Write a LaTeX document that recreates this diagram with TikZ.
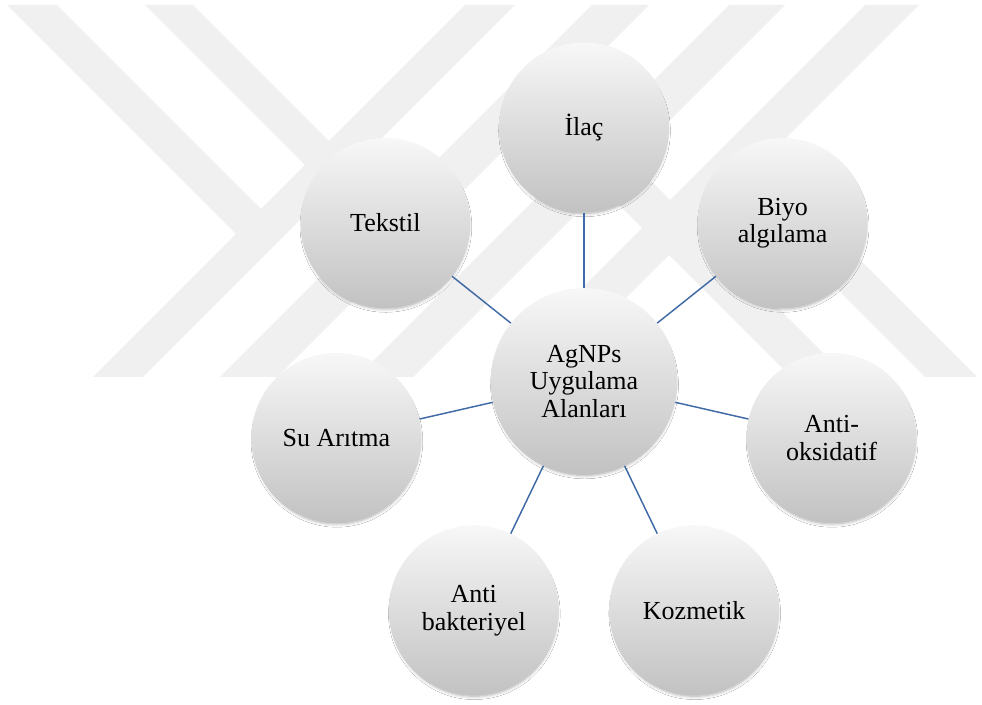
\documentclass[tikz,border=0pt]{standalone}
\usepackage{fontspec}
\setmainfont{Liberation Serif}
\usetikzlibrary{shadows.blur}

\definecolor{wmgray}{RGB}{240,240,240}
\definecolor{linkblue}{RGB}{64,106,166}

\tikzset{
  bubble/.style={circle, inner sep=0pt, minimum size=127.5pt, align=center,
    top color=white!97!black, bottom color=white!76!black, draw=none,
    font=\fontsize{19.5}{20.8}\selectfont,
    blur shadow={shadow xshift=0.4pt, shadow yshift=-2.6pt, shadow scale=0.97,
      shadow blur radius=2.6pt, shadow blur steps=10, shadow opacity=32}},
  hub/.style={bubble, minimum size=140pt},
  link/.style={draw=linkblue, line width=1.1pt},
  wm/.style={fill=wmgray, draw=none}
}

\begin{document}
\begin{tikzpicture}[x=0.75pt, y=-0.75pt]
\useasboundingbox (0,0) rectangle (982,705);
\fill[white] (0,0) rectangle (982,705);

% faint striped emblem in the background
\begin{scope}
  \clip (0,5) rectangle (982,377);
  % long rising stripes
  \fill[wm] (465,5) -- (515,5) -- (143,377) -- (93,377) -- cycle;
  \fill[wm] (592,5) -- (649,5) -- (277,377) -- (220,377) -- cycle;
  \fill[wm] (729,5) -- (785,5) -- (413,377) -- (357,377) -- cycle;
  \fill[wm] (865,5) -- (919,5) -- (547,377) -- (493,377) -- cycle;
  % falling arms on the left, ending at the rising stripes
  \fill[wm] (7,5) -- (57,5) -- (286,234) -- (236,234) -- cycle;
  \fill[wm] (145,5) -- (193,5) -- (421,233) -- (368.5,228.5) -- cycle;
  % falling arms on the right, leaving the rising stripes
  \fill[wm] (574,160) -- (630,160) -- (847,377) -- (791,377) -- cycle;
  \fill[wm] (709,161) -- (762,162) -- (977,377) -- (925,377) -- cycle;
\end{scope}

% hub and application areas
\node[hub]    (center)  at (584,381.5) {AgNPs\\Uygulama\\Alanları};
\node[bubble] (ilac)    at (584,127.5) {İlaç};
\node[bubble] (biyo)    at (782.6,223.1) {Biyo\\algılama};
\node[bubble] (oksi)    at (831.6,438.0) {Anti-\\oksidatif};
\node[bubble] (kozm)    at (694.2,610.4) {Kozmetik};
\node[bubble] (bakt)    at (473.8,610.4) {Anti\\bakteriyel};
\node[bubble] (su)      at (336.4,438.0) {Su Arıtma};
\node[bubble] (tekstil) at (385.4,223.1) {Tekstil};

% spokes
\foreach \n in {ilac,biyo,oksi,kozm,bakt,su,tekstil}
  \draw[link] (center) -- (\n);
\end{tikzpicture}
\end{document}
